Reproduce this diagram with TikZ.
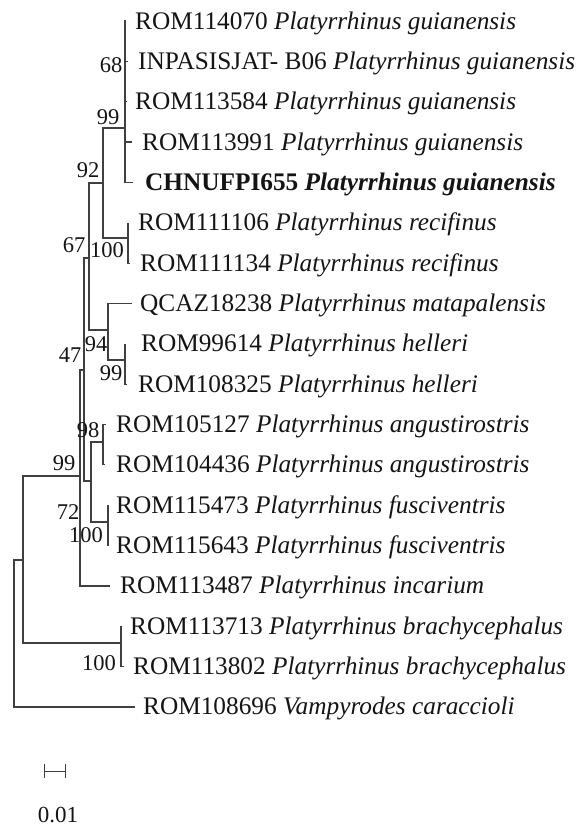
\documentclass[tikz,border=0pt]{standalone}
\usepackage{fontspec}
\setmainfont{Liberation Serif}
\begin{document}
\begin{tikzpicture}[x=1pt,y=-1pt,
  br/.style={line width=1.2pt, draw=black!75},
  tiplab/.style={anchor=base west, inner sep=0pt, text=black!92, font=\fontsize{25.3}{25.3}\selectfont},
  bs/.style={inner sep=0pt, text=black!92, font=\fontsize{22.5}{22.5}\selectfont}]
\useasboundingbox (0,0) rectangle (587,827);
% tips
\coordinate (t1) at (126,21);
\coordinate (t2) at (128,61.35);
\coordinate (t3) at (127,101.7);
\coordinate (t4) at (132,142.05);
\coordinate (t5) at (133,182.4);
\coordinate (t6) at (128,222.75);
\coordinate (t7) at (130,263.1);
\coordinate (t8) at (132,303.45);
\coordinate (t9) at (125,343.8);
\coordinate (t10) at (127,384.15);
\coordinate (t11) at (106,424.5);
\coordinate (t12) at (105,464.85);
\coordinate (t13) at (108,505.2);
\coordinate (t14) at (108,545.55);
\coordinate (t15) at (110,585.9);
\coordinate (t16) at (122,626.25);
\coordinate (t17) at (124,666.6);
\coordinate (t18) at (135,706.95);
% internal nodes
\coordinate (n68) at (125,41);
\coordinate (n99a) at (125,128);
\coordinate (n100r) at (128,238);
\coordinate (n92) at (103,183);
\coordinate (n99h) at (125,360);
\coordinate (n94) at (108,330);
\coordinate (n67) at (89,258);
\coordinate (n98) at (103,442);
\coordinate (n100f) at (108,522);
\coordinate (n72) at (91,481);
\coordinate (n47) at (84,370);
\coordinate (n99b) at (80,476);
\coordinate (n100b) at (121,643);
\coordinate (nB) at (23,560);
\coordinate (root) at (14,633);
% branches
\draw[br] (n68) |- (t1);
\draw[br] (n68) |- (t2);
\draw[br] (n99a) |- (n68);
\draw[br] (n99a) |- (t3);
\draw[br] (n99a) |- (t4);
\draw[br] (n99a) |- (t5);
\draw[br] (n100r) |- (t6);
\draw[br] (n100r) |- (t7);
\draw[br] (n92) |- (n99a);
\draw[br] (n92) |- (n100r);
\draw[br] (n99h) |- (t9);
\draw[br] (n99h) |- (t10);
\draw[br] (n94) |- (t8);
\draw[br] (n94) |- (n99h);
\draw[br] (n67) |- (n92);
\draw[br] (n67) |- (n94);
\draw[br] (n98) |- (t11);
\draw[br] (n98) |- (t12);
\draw[br] (n100f) |- (t13);
\draw[br] (n100f) |- (t14);
\draw[br] (n72) |- (n98);
\draw[br] (n72) |- (n100f);
\draw[br] (n47) |- (n67);
\draw[br] (n47) |- (n72);
\draw[br] (n99b) |- (n47);
\draw[br] (n99b) |- (t15);
\draw[br] (n100b) |- (t16);
\draw[br] (n100b) |- (t17);
\draw[br] (nB) |- (n99b);
\draw[br] (nB) |- (n100b);
\draw[br] (root) |- (nB);
\draw[br] (root) |- (t18);
% tip labels
\node[tiplab] (l1) at (135,29) {ROM114070 \textit{Platyrrhinus guianensis}};
\node[tiplab] (l2) at (138,69.35) {INPASISJAT- B06 \textit{Platyrrhinus guianensis}};
\node[tiplab] (l3) at (135,109.7) {ROM113584 \textit{Platyrrhinus guianensis}};
\node[tiplab] (l4) at (142,150.05) {ROM113991 \textit{Platyrrhinus guianensis}};
\node[tiplab] (l5) at (145,190.4) {\textbf{CHNUFPI655 \textit{Platyrrhinus guianensis}}};
\node[tiplab] (l6) at (138,230.75) {ROM111106 \textit{Platyrrhinus recifinus}};
\node[tiplab] (l7) at (140,271.1) {ROM111134 \textit{Platyrrhinus recifinus}};
\node[tiplab] (l8) at (140,311.45) {QCAZ18238 \textit{Platyrrhinus matapalensis}};
\node[tiplab] (l9) at (141,351.8) {ROM99614 \textit{Platyrrhinus helleri}};
\node[tiplab] (l10) at (138,392.15) {ROM108325 \textit{Platyrrhinus helleri}};
\node[tiplab] (l11) at (116,432.5) {ROM105127 \textit{Platyrrhinus angustirostris}};
\node[tiplab] (l12) at (116,472.85) {ROM104436 \textit{Platyrrhinus angustirostris}};
\node[tiplab] (l13) at (116,513.2) {ROM115473 \textit{Platyrrhinus fusciventris}};
\node[tiplab] (l14) at (116,553.55) {ROM115643 \textit{Platyrrhinus fusciventris}};
\node[tiplab] (l15) at (120,593.9) {ROM113487 \textit{Platyrrhinus incarium}};
\node[tiplab] (l16) at (130,634.25) {ROM113713 \textit{Platyrrhinus brachycephalus}};
\node[tiplab] (l17) at (133,674.6) {ROM113802 \textit{Platyrrhinus brachycephalus}};
\node[tiplab] (l18) at (143,714.95) {ROM108696 \textit{Vampyrodes caraccioli}};
% bootstrap values
\node[bs] (b68) at (111,65) {68};
\node[bs] (b99a) at (108,117) {99};
\node[bs] (b92) at (88,170) {92};
\node[bs] (b67) at (74,245) {67};
\node[bs] (b100r) at (107,250) {100};
\node[bs] (b94) at (96,344) {94};
\node[bs] (b47) at (70,355) {47};
\node[bs] (b99h) at (111,373) {99};
\node[bs] (b98) at (88,430) {98};
\node[bs] (b99b) at (64,463) {99};
\node[bs] (b72) at (68,512) {72};
\node[bs] (b100f) at (86,535) {100};
\node[bs] (b100b) at (99,663) {100};
% scale bar
\coordinate (s1) at (44,771);
\coordinate (s2) at (65,771);
\draw[br, line width=1pt] (s1) -- (s2);
\draw[br, line width=1pt] ([yshift=-7pt]s1) -- ([yshift=7pt]s1);
\draw[br, line width=1pt] ([yshift=-7pt]s2) -- ([yshift=7pt]s2);
\node[bs, font=\fontsize{23}{23}\selectfont] (scl) at (58,815) {0.01};
\end{tikzpicture}
\end{document}
